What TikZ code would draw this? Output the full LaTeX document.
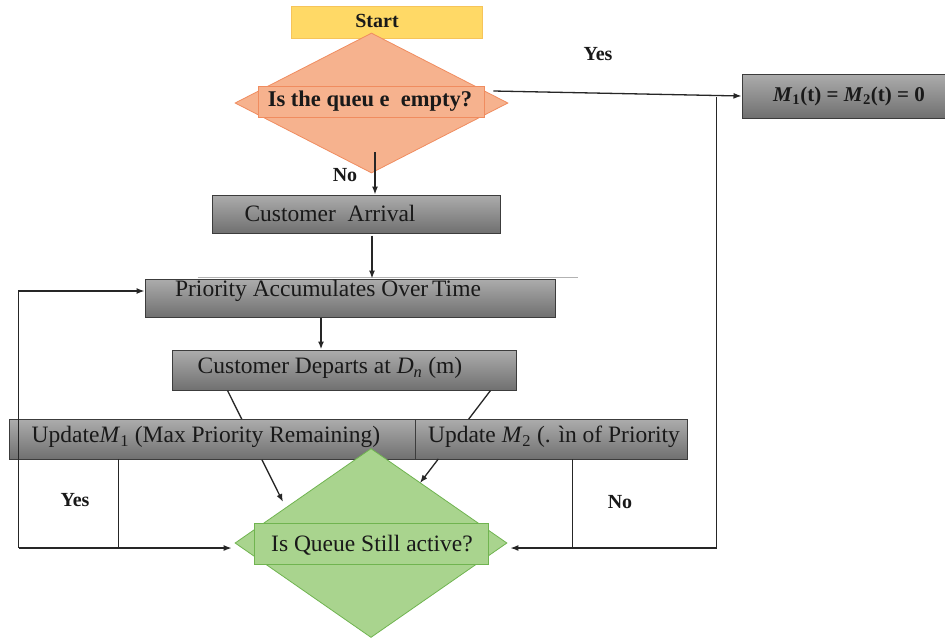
\documentclass[tikz,border=0pt]{standalone}
\usepackage{fontspec}
\setmainfont{Liberation Serif}
\usetikzlibrary{shapes.geometric,arrows.meta,calc}
\definecolor{startfill}{RGB}{255,217,102}
\definecolor{startdraw}{RGB}{246,196,90}
\definecolor{orfill}{RGB}{246,178,142}
\definecolor{ordraw}{RGB}{240,140,95}
\definecolor{grfill}{RGB}{169,212,142}
\definecolor{grdraw}{RGB}{112,180,80}
\definecolor{boxdraw}{RGB}{60,60,60}
\definecolor{boxtop}{RGB}{172,172,172}
\definecolor{boxbot}{RGB}{112,112,112}
\definecolor{txt}{RGB}{25,25,25}
\newcommand{\Msub}[1]{\textit{M}\textsubscript{#1}}
\tikzset{
  graybox/.style={draw=boxdraw, line width=1pt, top color=boxtop, bottom color=boxbot, inner sep=0pt},
  lbl/.style={text=txt, inner sep=0pt, font=\fontsize{23.5}{26}\selectfont},
  blbl/.style={text=txt, inner sep=0pt, font=\bfseries\fontsize{20}{22}\selectfont},
  arr/.style={line width=1.3pt, draw=black!85, -{Latex[length=8pt,width=6pt]}},
  ln/.style={line width=1.3pt, draw=black!85},
}
\begin{document}
\begin{tikzpicture}[x=1pt,y=-1pt]
\fill[white] (0,0) rectangle (945,638);
\useasboundingbox (0,0) rectangle (945,638);

% start
\node[draw=startdraw, fill=startfill, line width=0.8pt, minimum width=191pt, minimum height=32pt, inner sep=0pt] (start) at (386.5,22) {};
\node[blbl, font=\bfseries\fontsize{20}{22}\selectfont] (tstart) at (377,21) {Start};

% first decision
\node[diamond, draw=ordraw, fill=orfill, line width=0.8pt, minimum width=273pt, minimum height=140pt, inner sep=0pt] (q1) at (371.5,103) {};
\node[draw=ordraw, fill=orfill, line width=0.8pt, minimum width=226pt, minimum height=31pt, inner sep=0pt] (q1box) at (371,101.5) {};
\node[blbl, font=\bfseries\fontsize{22.5}{25}\selectfont] (tq1) at (370,101) {Is the queu e\ \ empty?};

% result box
\node[graybox, minimum width=203pt, minimum height=44pt] (mbox) at (843.5,96) {};
\node[lbl, font=\bfseries\fontsize{21}{24}\selectfont] (tm) at (849,96) {\Msub{1}(t) = \Msub{2}(t) = 0};

% process boxes
\node[graybox, minimum width=288pt, minimum height=38pt] (arrival) at (356,214) {};
\node[lbl] (tarrival) at (330,213) {Customer\ \ Arrival};

\node[graybox, minimum width=410pt, minimum height=38pt] (prio) at (350,298) {};
\node[lbl] (tprio) at (328,291) {Priority Accumulates Over\hspace{-2pt} Time};
\coordinate (pl1) at ($(prio.north west)+(53,-1)$);
\coordinate (pl2) at ($(prio.north east)+(22,-1)$);
\draw[gray!60, line width=0.6pt] (pl1) -- (pl2);

\node[graybox, minimum width=344pt, minimum height=40pt] (depart) at (344,370) {};
\node[lbl] (tdepart) at (330,368) {Customer Departs at \textit{D}\textsubscript{\textit{n}} (m)};

% second decision geometry
\coordinate (q2c) at (371,543);

% diagonals (upper parts)
\coordinate (d1a) at ($(depart.south west)+(56,0)$);
\coordinate (d1b) at ($(q2c)+(-88,-41)$);
\coordinate (d2a) at ($(depart.south east)+(-26,0)$);
\coordinate (d2b) at ($(q2c)+(49,-60)$);
\draw[ln] (d1a) -- ($(d1a)!0.26!(d1b)$);
\draw[ln] (d2a) -- ($(d2a)!0.31!(d2b)$);

% update bar
\node[graybox, line width=0.7pt, minimum width=406pt, minimum height=40pt] (upd1) at (212,439) {};
\node[graybox, line width=0.7pt, minimum width=272pt, minimum height=40pt] (upd2) at (551,439) {};
\node[lbl] (tupd1) at (206,437) {Update\Msub{1} (Max Priority Remaining)};
\node[lbl] (tupd2) at (554,437) {Update \Msub{2} (. ìn of Priority};

% second decision
\node[diamond, draw=grdraw, fill=grfill, line width=0.8pt, minimum width=272pt, minimum height=189pt, inner sep=0pt] (q2) at (q2c) {};
\node[draw=grdraw, fill=grfill, line width=0.8pt, minimum width=234pt, minimum height=41pt, inner sep=0pt] (q2box) at (371,543.5) {};
\node[lbl] (tq2) at (372,545) {Is Queue Still active?};

% diagonals (lower parts with arrows)
\draw[arr] ($(d1a)!0.62!(d1b)$) -- (d1b);
\draw[arr] ($(d2a)!0.74!(d2b)$) -- (d2b);

% main arrows
\coordinate (n1) at ($(q1.center)+(3.5,49)$);
\draw[arr] (n1) -- (n1 |- arrival.north);
\coordinate (a1) at ($(arrival.south)+(16,2)$);
\draw[arr] (a1) -- (a1 |- prio.north);
\coordinate (p1) at ($(prio.south)+(-29,0)$);
\draw[arr, line width=2pt] (p1) -- (p1 |- depart.north);

% yes branch to result
\coordinate (y1) at ($(q1.east)+(-15,-12)$);
\draw[arr] (y1) -- (mbox.west);
\coordinate (j1) at ($(mbox.west)+(-25,1)$);
\coordinate (j2) at ($(q2.east)+(3,5)$);
\draw[arr] (j1) |- (j2);

% no branch
\coordinate (nv) at ($(upd2.south west)+(158,0)$);
\draw[ln] (nv) -- (nv |- j2);

% yes loop
\coordinate (l1) at ($(q2.west)+(-3,5)$);
\coordinate (lc) at ($(upd1.west)+(10,0)$);
\coordinate (pin) at ($(prio.west)+(0,-7)$);
\draw[arr] (lc |- l1) -- (lc |- pin) -- (pin);
\draw[arr] (lc |- l1) -- (l1);
\coordinate (yv) at ($(upd1.south west)+(110,0)$);
\draw[ln] (yv) -- (yv |- l1);

% labels
\node[blbl] (yes1) at (598,54) {Yes};
\node[blbl] (no1) at (345,175) {No};
\node[blbl] (yes2) at (75,500) {Yes};
\node[blbl] (no2) at (620,502) {No};
\end{tikzpicture}
\end{document}
